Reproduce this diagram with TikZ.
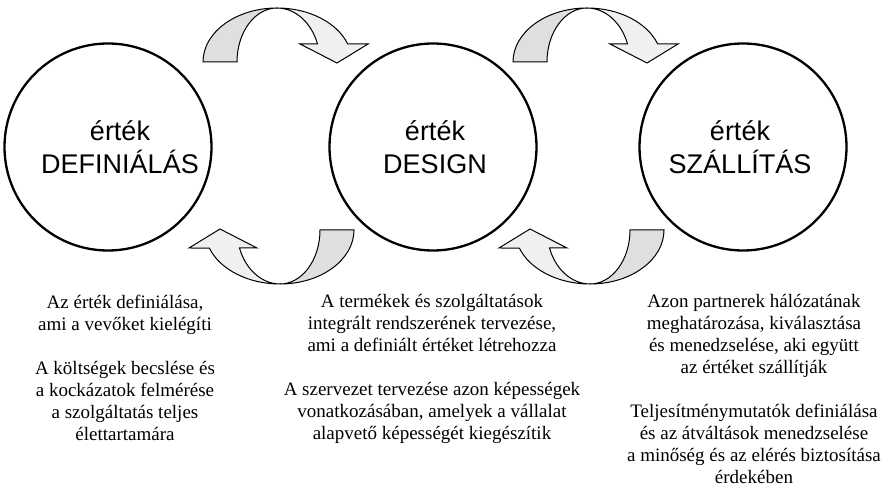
\documentclass[tikz,border=0pt]{standalone}
\usepackage{fontspec}
\setmainfont{Liberation Serif}
\newfontfamily\stagefont{Liberation Sans}
\usetikzlibrary{positioning}

\begin{document}
\begin{tikzpicture}[x = 1pt, y = 1pt,
  stage/.style = {circle, draw, line width = 2.3pt, minimum size = 207pt, inner sep = 0pt},
  stagetext/.style = {align = center, inner sep = 0pt, font = \stagefont\fontsize{27}{33}\selectfont},
  desc/.style = {align = center, anchor = north, inner sep = 0pt, font = \fontsize{19}{22}\selectfont},
  backband/.style = {draw, line width = 1pt, fill = gray!25},
  frontband/.style = {draw, line width = 1pt, fill = gray!12}]

\useasboundingbox (0, 0) rectangle (889, 490);

\foreach \ax/\ay/\rot in {277/428/0, 587/428/0, 280/260/180, 590/260/180} {
\begin{scope}[shift = {(\ax, \ay)}, rotate = \rot]
\path[backband] (-74, 0) arc[start angle = 180, end angle = 90, x radius = 74, y radius = 54]
  arc[start angle = 90, end angle = 180, x radius = 40, y radius = 54] -- cycle;
\path[frontband] (0, 54) arc[start angle = 90, end angle = 19.5, x radius = 75, y radius = 54]
  -- (91, 18) -- (60, -1) -- (23, 18) -- (40.5, 18)
  arc[start angle = 19.5, end angle = 90, x radius = 43, y radius = 54] -- cycle;
\end{scope}
}

\node (def) at (108, 343) [stage] {};
\node (des) at (433, 343) [stage] {};
\node (szal) at (743, 343) [stage] {};

\node (deftext) at (def) [stagetext, xshift = 12pt] {érték\\DEFINIÁLÁS};
\node (destext) at (des) [stagetext, xshift = 2pt] {érték\\DESIGN};
\node (szaltext) at (szal) [stagetext, xshift = -3pt] {érték\\SZÁLLÍTÁS};

\node (defdesc) at (125, 195) [desc] {Az érték definiálása,\\ami a vevőket kielégíti\\[22pt]A költségek becslése és\\a kockázatok felmérése\\a szolgáltatás teljes\\élettartamára};
\node (desdesc) at (432, 196) [desc] {A termékek és szolgáltatások\\integrált rendszerének tervezése,\\ami a definiált értéket létrehozza\\[22pt]A szervezet tervezése azon képességek\\vonatkozásában, amelyek a vállalat\\alapvető képességét kiegészítik};
\node (szaldesc) at (754, 196) [desc] {Azon partnerek hálózatának\\meghatározása, kiválasztása\\és menedzselése, aki együtt\\az értéket szállítják\\[22pt]Teljesítménymutatók definiálása\\és az átváltások menedzselése\\a minőség és az elérés biztosítása\\érdekében};

\end{tikzpicture}
\end{document}
